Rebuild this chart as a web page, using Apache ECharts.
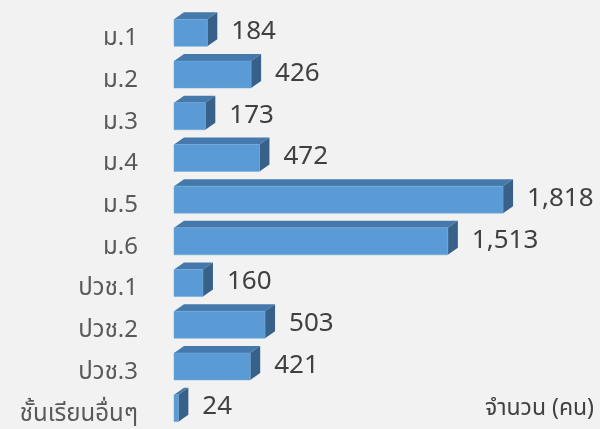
<!DOCTYPE html>
<html>
<head>
<meta charset="utf-8">
<script src="https://cdn.jsdelivr.net/npm/echarts@6/dist/echarts.min.js"></script>
<style>
  html, body { margin: 0; padding: 0; background: #f2f2f2; }
  #chart { width: 600px; height: 429px; }
</style>
</head>
<body>
<div id="chart"></div>
<script>
// ระดับชั้น
const categories = ['ม.1', 'ม.2', 'ม.3', 'ม.4', 'ม.5', 'ม.6', 'ปวช.1', 'ปวช.2', 'ปวช.3', 'ชั้นเรียนอื่นๆ']
// จำนวนนักเรียน (คน)
const counts = [184, 426, 173, 472, 1818, 1513, 160, 503, 421, 24]
const unitLabel = 'จำนวน (คน)'

const FONT = '"Noto Sans Thai", "Noto Sans", "DejaVu Sans", sans-serif'
const DX = 10 // ความลึกแนวนอนของกล่อง 3 มิติ
const DY = 7  // ความลึกแนวตั้ง
const HALF = 13.5

function renderBar(params, api) {
  const idx = api.value(1)
  const start = api.coord([0, idx])
  const end = api.coord([api.value(0), idx])
  const x0 = start[0], x1 = end[0], cy = start[1]
  const top = cy - HALF, bot = cy + HALF
  return {
    type: 'group',
    children: [
      { // ด้านบน
        type: 'polygon',
        shape: { points: [[x0, top], [x0 + DX, top - DY], [x1 + DX, top - DY], [x1, top]] },
        style: { fill: '#4679ab' }
      },
      { // ด้านข้าง
        type: 'polygon',
        shape: { points: [[x1, top], [x1 + DX, top - DY], [x1 + DX, bot - DY], [x1, bot]] },
        style: { fill: '#386189' }
      },
      { // ด้านหน้า
        type: 'rect',
        shape: { x: x0, y: top, width: x1 - x0, height: bot - top },
        style: { fill: '#5b9bd5', stroke: '#6fa8dc', lineWidth: 0.5 }
      },
      {
        type: 'text',
        style: {
          text: counts[idx].toLocaleString('en-US'),
          x: x1 + DX + 14,
          y: cy + 1,
          verticalAlign: 'middle',
          font: '26px ' + FONT,
          fill: '#404040'
        }
      }
    ]
  }
}

const chart = echarts.init(document.getElementById('chart'))
chart.setOption({
  backgroundColor: '#f2f2f2',
  animation: false,
  grid: { left: 174, right: 64, top: 12, bottom: 0 },
  xAxis: {
    type: 'value', min: 0, max: 2000, show: false
  },
  yAxis: {
    type: 'category',
    data: categories,
    inverse: true,
    axisLine: { show: false },
    axisTick: { show: false },
    axisLabel: {
      margin: 36,
      fontSize: 24,
      fontFamily: FONT,
      color: '#595959',
      verticalAlign: 'top',
      lineHeight: 15
    }
  },
  series: [{
    type: 'custom',
    renderItem: renderBar,
    encode: { x: 0, y: 1 },
    data: counts.map((v, i) => [v, i]),
    clip: false
  }],
  graphic: [{
    type: 'text',
    right: 6,
    top: 399,
    style: { text: unitLabel, font: '23px ' + FONT, fill: '#404040' }
  }]
})
</script>
</body>
</html>
